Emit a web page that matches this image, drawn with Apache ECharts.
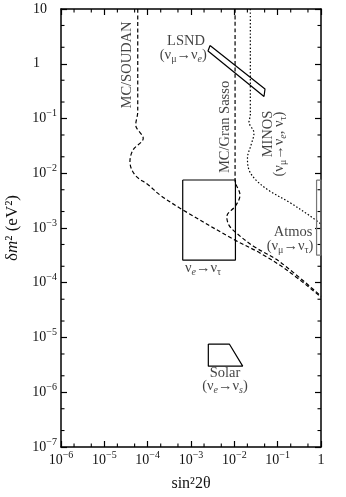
<!DOCTYPE html>
<html>
<head>
<meta charset="utf-8">
<script src="https://cdn.jsdelivr.net/npm/echarts@6/dist/echarts.min.js"></script>
<style>
  html, body { margin: 0; padding: 0; background: #fff; }
  #chart { width: 346px; height: 497px; }
</style>
</head>
<body>
<div id="chart"></div>
<script>
// [sin^2 2θ, δm^2] pairs
const soudan = [[5.9e-5, 10], [5.9e-5, 0.133], [5.3e-5, 0.076], [7.9e-5, 0.0435], [4.6e-5, 0.0266],
  [3.9e-5, 0.0163], [5.1e-5, 0.0093], [1.04e-4, 0.0061], [1.93e-4, 0.004], [6.55e-4, 0.00213],
  [0.0104, 6.0e-4], [0.039, 3.5e-4], [0.162, 1.71e-4], [1, 5.5e-5]];
const granSasso = [[0.0104, 10], [0.0104, 0.0075], [0.0135, 0.004], [0.0109, 0.0026], [0.0067, 0.0016],
  [0.0075, 0.00113], [0.0104, 0.00085], [0.027, 4.7e-4], [0.113, 2.4e-4], [1, 5.7e-5]];
const minos = [[0.0234, 10], [0.0234, 0.116], [0.0218, 0.0863], [0.0284, 0.0543], [0.0243, 0.0328],
  [0.0201, 0.019], [0.0218, 0.0115], [0.0316, 0.0075], [0.0665, 0.0047], [0.193, 0.0029],
  [0.558, 0.00166], [1, 0.00118]];
const lsnd = [[0.00275, 2.15], [0.051, 0.346], [0.0484, 0.252], [0.00247, 1.71], [0.00275, 2.15]];
const etauBox = [[6.44e-4, 0.00753], [0.0106, 0.00753], [0.0106, 2.6e-4], [6.44e-4, 2.6e-4], [6.44e-4, 0.00753]];
const solar = [[0.00251, 7.6e-6], [0.00766, 7.6e-6], [0.0156, 3.0e-6], [0.00251, 3.0e-6], [0.00251, 7.6e-6]];
const atmos = [[0.79, 0.0075], [1, 0.0075], [1, 3.2e-4], [0.79, 3.2e-4], [0.79, 0.0075]];

// minor tick marks: 2 and 5 inside each decade
const xMinor = [2e-6, 5e-6, 2e-5, 5e-5, 2e-4, 5e-4, 2e-3, 5e-3, 2e-2, 5e-2, 0.2, 0.5];
const yMinor = [2e-7, 5e-7, 2e-6, 5e-6, 2e-5, 5e-5, 2e-4, 5e-4, 2e-3, 5e-3, 0.02, 0.05, 0.2, 0.5, 2, 5];

// annotation texts and where they sit (data coords), rotation in degrees
const notes = [
  ['MC/SOUDAN', 3.33e-5, 0.95, 90],
  ['LSND', 7.67e-4, 2.6, 0],
  ['(ν{s|μ}→ν{si|e})', 6.65e-4, 1.45, 0],
  ['MC/Gran Sasso', 0.006, 0.07, 90],
  ['MINOS', 0.0598, 0.0521, 90],
  ['(ν{s|μ}→ν{si|e}, ν{s|τ})', 0.11, 0.0342, 90],
  ['Atmos', 0.226, 8.45e-4, 0],
  ['(ν{s|μ}→ν{s|τ})', 0.193, 4.69e-4, 0],
  ['ν{si|e}→ν{s|τ}', 0.00189, 1.86e-4, 0],
  ['Solar', 0.0061, 2.25e-6, 0],
  ['(ν{si|e}→ν{si|s})', 0.0061, 1.3e-6, 0],
];

const FONT = '"Liberation Serif", "Times New Roman", serif';
const INK = '#111';

const chart = echarts.init(document.getElementById('chart'));

const tickRich = {
  b: { fontSize: 14, fontFamily: FONT, color: INK, lineHeight: 20 },
  s: { fontSize: 10, fontFamily: FONT, color: INK, lineHeight: 10, verticalAlign: 'top' },
  p: { width: 10 },
  q: { width: 17 },
};
const noteRich = {
  n: { fontSize: 14.5, fontFamily: FONT, color: INK, lineHeight: 18 },
  s: { fontSize: 10, fontFamily: FONT, color: INK, lineHeight: 10, verticalAlign: 'bottom' },
  si: { fontSize: 10, fontFamily: FONT, color: INK, lineHeight: 10, verticalAlign: 'bottom', fontStyle: 'italic' },
};

function expOf(v) { return Math.round(Math.log10(v)); }
function yLabel(v) {
  const e = expOf(v);
  if (e === 1) return '{b|10}{p|}';
  if (e === 0) return '{b|1}{q|}';
  return '{b|10}{s|\u2212' + (-e) + '}';
}
function xLabel(v) {
  const e = expOf(v);
  if (e === 0) return '{b|1}';
  return '{b|10}{s|\u2212' + (-e) + '}';
}

const lineStyle = { color: '#000', width: 1.5 };
function logAxis(extra) {
  return Object.assign({
    type: 'log',
    logBase: 10,
    axisLine: { show: true, lineStyle: lineStyle },
    axisTick: { show: true, inside: true, length: 6, lineStyle: { color: '#000', width: 1.2 } },
    minorTick: { show: false },
    splitLine: { show: false },
    minorSplitLine: { show: false },
  }, extra);
}

function curve(data, dash) {
  return {
    type: 'line', data: data, symbol: 'none', smooth: 0.35, silent: true,
    xAxisIndex: 0, yAxisIndex: 0,
    lineStyle: { color: '#000', width: 1.2, type: dash },
  };
}
function outline(data, color) {
  return {
    type: 'line', data: data, symbol: 'none', silent: true, clip: false,
    xAxisIndex: 0, yAxisIndex: 0,
    lineStyle: { color: color, width: 1.2 },
  };
}

// short inward marks on all four frame sides
function minorTicks(params, api) {
  const cs = params.coordSys;
  const len = 3.5;
  const style = { stroke: '#000', lineWidth: 1.1 };
  if (api.value(2) === 0) {
    const px = api.coord([api.value(0), 1])[0];
    return { type: 'group', children: [
      { type: 'line', shape: { x1: px, y1: cs.y + cs.height, x2: px, y2: cs.y + cs.height - len }, style: style },
      { type: 'line', shape: { x1: px, y1: cs.y, x2: px, y2: cs.y + len }, style: style },
    ] };
  }
  const py = api.coord([1e-3, api.value(1)])[1];
  return { type: 'group', children: [
    { type: 'line', shape: { x1: cs.x, y1: py, x2: cs.x + len, y2: py }, style: style },
    { type: 'line', shape: { x1: cs.x + cs.width, y1: py, x2: cs.x + cs.width - len, y2: py }, style: style },
  ] };
}

const option = {
  animation: false,
  backgroundColor: '#fff',
  grid: { left: 61, right: 25, top: 9, bottom: 50, containLabel: false, outerBoundsMode: 'none' },
  xAxis: [
    logAxis({
      min: 1e-6, max: 1, splitNumber: 6, position: 'bottom',
      axisLabel: { formatter: xLabel, rich: tickRich, margin: 3 },
      name: 'sin²2θ', nameLocation: 'middle', nameGap: 29,
      nameTextStyle: { fontFamily: FONT, fontSize: 16, color: INK },
    }),
    logAxis({ min: 1e-6, max: 1, splitNumber: 6, position: 'top', axisLabel: { show: false } }),
  ],
  yAxis: [
    logAxis({
      min: 1e-7, max: 10, splitNumber: 8, position: 'left',
      axisLabel: { formatter: yLabel, rich: tickRich, margin: 4 },
      name: 'δ{i|m}² (eV²)', nameLocation: 'middle', nameGap: 25, nameRotate: 90,
      nameTextStyle: {
        fontFamily: FONT, fontSize: 17, color: INK,
        rich: { i: { fontFamily: FONT, fontSize: 17, color: INK, fontStyle: 'italic' } },
      },
    }),
    logAxis({ min: 1e-7, max: 10, splitNumber: 8, position: 'right', axisLabel: { show: false } }),
  ],
  series: [
    curve(soudan, [4, 2.5]),
    curve(granSasso, [4, 2.5]),
    curve(minos, [1.5, 2]),
    outline(lsnd, '#000'),
    outline(etauBox, '#000'),
    outline(solar, '#000'),
    outline(atmos, '#777'),
    {
      type: 'custom', silent: true, clip: false,
      xAxisIndex: 0, yAxisIndex: 0,
      renderItem: minorTicks,
      data: xMinor.map(v => [v, 1, 0]).concat(yMinor.map(v => [1e-3, v, 1])),
    },
    {
      type: 'scatter', symbolSize: 0, silent: true,
      xAxisIndex: 0, yAxisIndex: 0,
      data: notes.map(n => ({
        value: [n[1], n[2]],
        name: n[0],
        label: { rotate: n[3] },
      })),
      label: {
        show: true, position: 'inside',
        formatter: p => '{n|' + p.name.replace(/\{(s|si)\|([^}]*)\}/g, '}{$1|$2}{n|') + '}',
        rich: noteRich,
      },
    },
  ],
};

chart.setOption(option);
</script>
</body>
</html>
